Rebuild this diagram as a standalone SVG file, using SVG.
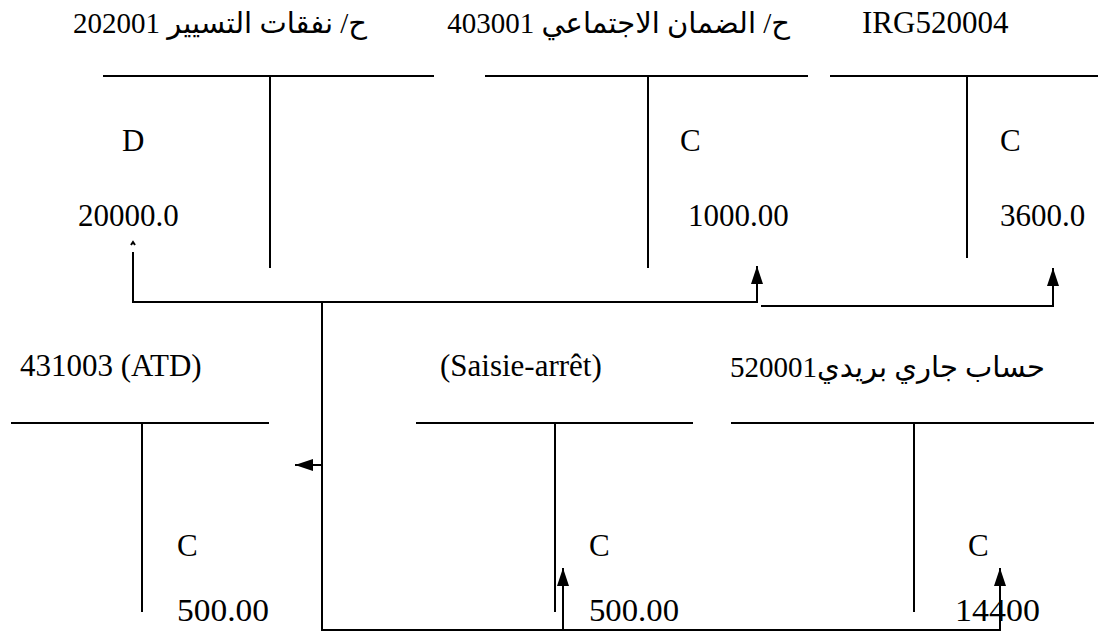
<svg xmlns="http://www.w3.org/2000/svg" width="1100" height="637" viewBox="0 0 1100 637">
<style>
.t{font-family:"Liberation Serif","DejaVu Sans","Noto Sans",serif;font-size:31px;fill:#000}
.ar{font-family:"Liberation Serif","DejaVu Sans","Noto Sans",serif;font-size:29px;fill:#000}
.l{stroke:#000;stroke-width:2;fill:none}
.c{stroke:#000;stroke-width:2;fill:none}
</style>
<defs>
<marker id="ah" markerWidth="18" markerHeight="12" refX="18" refY="6" orient="auto" markerUnits="userSpaceOnUse" viewBox="0 0 18 12">
<path d="M0,0 L18,6 L0,12 Z" fill="#000"/>
</marker>
</defs>
<rect width="1100" height="637" fill="#fff"/>

<g id="acc-202001">
<text class="ar" x="367" y="33" direction="rtl" text-anchor="start">ح/ نفقات التسيير 202001</text>
<line class="l" x1="103" y1="76" x2="434" y2="76"/>
<line class="l" x1="270" y1="76" x2="270" y2="268"/>
<text class="t" x="122" y="151">D</text>
<text class="t" x="78" y="226">20000.0</text>
<path class="l" d="M131,245 L133,242 L135,245" stroke-width="1.2"/>
</g>

<g id="acc-403001">
<text class="ar" x="790" y="33" direction="rtl" text-anchor="start">ح/ الضمان الاجتماعي 403001</text>
<line class="l" x1="485" y1="76" x2="808" y2="76"/>
<line class="l" x1="648" y1="76" x2="648" y2="268"/>
<text class="t" x="680" y="151">C</text>
<text class="t" x="688" y="226">1000.00</text>
</g>

<g id="acc-520004">
<text class="t" x="862" y="33">IRG520004</text>
<line class="l" x1="830" y1="76" x2="1098" y2="76"/>
<line class="l" x1="967" y1="76" x2="967" y2="258"/>
<text class="t" x="1000" y="151">C</text>
<text class="t" x="1000" y="226">3600.0</text>
</g>

<g id="acc-431003">
<text class="t" x="20" y="376">431003 (ATD)</text>
<line class="l" x1="11" y1="423" x2="269" y2="423"/>
<line class="l" x1="142" y1="423" x2="142" y2="612"/>
<text class="t" x="177" y="556">C</text>
<text class="t" x="177" y="621" textLength="92" lengthAdjust="spacingAndGlyphs">500.00</text>
</g>

<g id="acc-saisie">
<text class="t" x="440" y="376">(Saisie-arrêt)</text>
<line class="l" x1="416" y1="423" x2="693" y2="423"/>
<line class="l" x1="555" y1="423" x2="555" y2="612"/>
<text class="t" x="589" y="556">C</text>
<text class="t" x="589" y="621" textLength="90" lengthAdjust="spacingAndGlyphs">500.00</text>
</g>

<g id="acc-520001">
<text class="ar" x="1045" y="377" direction="rtl" text-anchor="start" style="font-size:29px">حساب جاري بريدي520001</text>
<line class="l" x1="731" y1="423" x2="1094" y2="423"/>
<line class="l" x1="914" y1="423" x2="914" y2="612"/>
<text class="t" x="968" y="556">C</text>
<text class="t" x="955" y="621" textLength="85" lengthAdjust="spacingAndGlyphs">14400</text>
</g>

<g id="connectors">
<path class="c" d="M133,252 V302 H757 V266" marker-end="url(#ah)"/>
<path class="c" d="M761,306 H1053 V268" marker-end="url(#ah)"/>
<path class="c" d="M322,302 V630 H1000 V568" marker-end="url(#ah)"/>
<path class="c" d="M322,465 H295" marker-end="url(#ah)"/>
<path class="c" d="M563,630 V568" marker-end="url(#ah)"/>
</g>
</svg>
